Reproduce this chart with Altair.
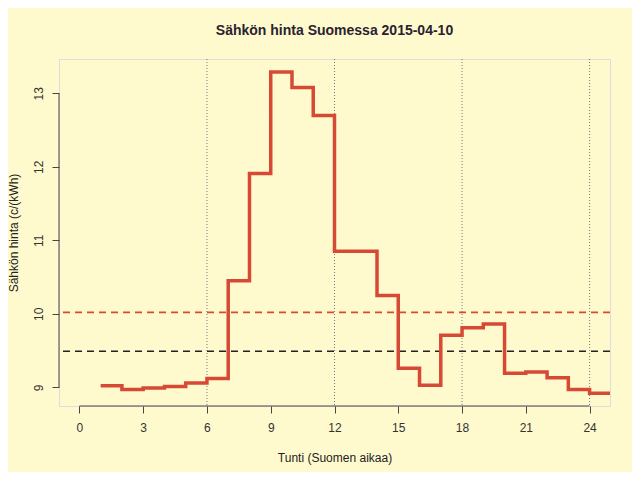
import altair as alt
import pandas as pd

# Tuntihinnat (c/kWh), tunnit 1..24, viimeinen arvo toistettu tunnille 25
tunnit = list(range(1, 26))
hinnat = [9.02, 8.97, 8.99, 9.01, 9.06, 9.12, 10.45, 11.91, 13.29, 13.08, 12.70,
          10.85, 10.85, 10.25, 9.26, 9.03, 9.71, 9.81, 9.86, 9.19, 9.21, 9.13,
          8.97, 8.92, 8.92]
keskiarvo = 10.02
muu_taso = 9.49
pystyviivat = [6, 12, 18, 24]
x_tikit = [0, 3, 6, 9, 12, 15, 18, 21, 24]
y_tikit = [9, 10, 11, 12, 13]

W, H = 551, 347
tausta = "#fffacd"
punainen = "#d64a35"

df = pd.DataFrame({"tunti": tunnit, "hinta": hinnat})
xs = alt.Scale(domain=[-0.96, 24.96], nice=False, zero=False)
ys = alt.Scale(domain=[8.746, 13.467], nice=False, zero=False)

x_akseli = alt.Axis(values=x_tikit, title="Tunti (Suomen aikaa)", grid=False, domain=False,
                    tickSize=7, tickColor="#4a4545", labelPadding=9, labelFontSize=12,
                    labelColor="#333333", titleFontSize=12, titleFontWeight="normal",
                    titleColor="#222222", titlePadding=19, labelFlush=False, format="d")
y_akseli = alt.Axis(values=y_tikit, title="Sähkön hinta (c/(kWh)", grid=False, domain=False,
                    tickSize=7, tickColor="#4a4545", labelAngle=270, labelAlign="center",
                    labelBaseline="bottom", labelPadding=7, labelFontSize=12,
                    labelColor="#333333", titleFontSize=12, titleFontWeight="normal",
                    titleColor="#222222", titlePadding=12, format="d")

viiva = alt.Chart(df).mark_line(interpolate="step-after", color=punainen,
                                strokeWidth=3.5, clip=True).encode(
    x=alt.X("tunti:Q", scale=xs, axis=x_akseli),
    y=alt.Y("hinta:Q", scale=ys, axis=y_akseli),
)

pysty = alt.Chart(pd.DataFrame({"x": pystyviivat})).mark_rule(
    color="#777777", strokeDash=[1, 2], strokeWidth=1).encode(
    x=alt.X("x:Q", scale=xs))

tasot = pd.DataFrame({"y": [keskiarvo, muu_taso], "vari": [punainen, "#222222"]})
vaaka = alt.Chart(tasot).mark_rule(strokeDash=[7, 5], strokeWidth=1.6).encode(
    y=alt.Y("y:Q", scale=ys),
    color=alt.Color("vari:N", scale=None),
)

# R:n akseliviivat ensimmäisestä viimeiseen tikkiin
x_viiva = alt.Chart(pd.DataFrame({"a": [min(x_tikit)], "b": [max(x_tikit)]})).mark_rule(
    color="#4a4545", strokeWidth=1).encode(
    x=alt.X("a:Q", scale=xs), x2="b:Q", y=alt.value(H))
y_viiva = alt.Chart(pd.DataFrame({"a": [min(y_tikit)], "b": [max(y_tikit)]})).mark_rule(
    color="#4a4545", strokeWidth=1).encode(
    y=alt.Y("a:Q", scale=ys), y2="b:Q", x=alt.value(0))

chart = alt.layer(pysty, vaaka, viiva, x_viiva, y_viiva).properties(
    width=W, height=H,
    title=alt.TitleParams("Sähkön hinta Suomessa 2015-04-10", fontSize=14,
                          fontWeight="bold", color="#2a2230", anchor="middle", offset=21),
    padding={"left": 51, "top": 51, "right": 22, "bottom": 66},
    autosize=alt.AutoSizeParams(type="none"),
    background=tausta,
).configure_view(
    stroke="#8a8274", strokeWidth=1.2, fill=tausta
).configure(
    font="Liberation Sans"
)

chart.save("out.html", embed_options={"renderer": "svg", "actions": False})
